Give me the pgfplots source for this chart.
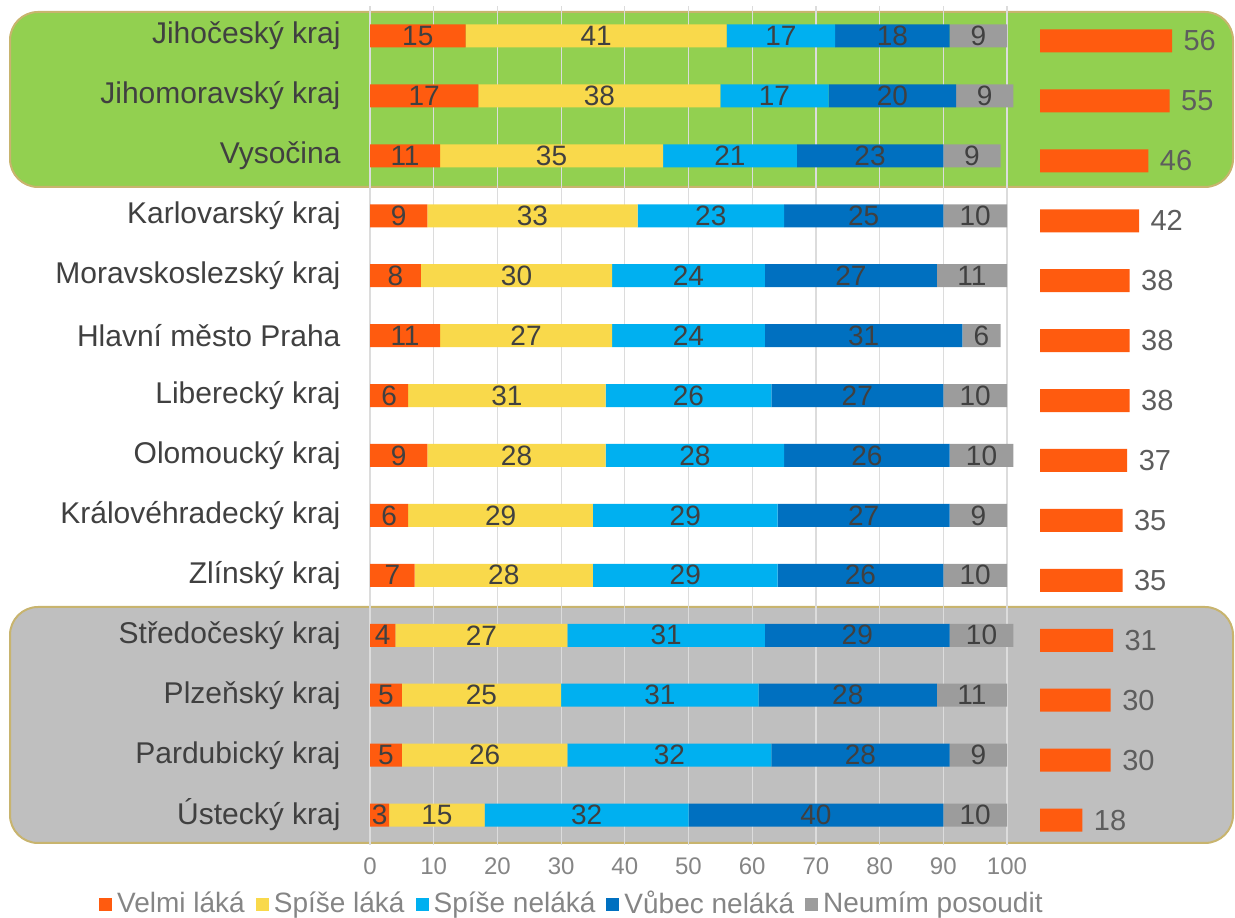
\documentclass[border=0pt]{standalone}
\usepackage{pgfplots}
\pgfplotsset{compat=1.18}
\usepackage{pgfplotstable}
\usepackage{fontspec}
\setmainfont{Liberation Sans}

\definecolor{velmi}{HTML}{FF5B0F}
\definecolor{spise}{HTML}{F9D94B}
\definecolor{nelaka}{HTML}{00B0F0}
\definecolor{vubec}{HTML}{0070C0}
\definecolor{neumim}{HTML}{9C9C9C}
\definecolor{bggreen}{HTML}{92D050}
\definecolor{bggray}{HTML}{BFBFBF}
\definecolor{bgedge}{HTML}{C8B46E}
\definecolor{gridc}{HTML}{DCDCDC}
\definecolor{labc}{HTML}{404040}
\definecolor{tickc}{HTML}{858585}

% r = row (0 = top), a..e = the five answers, s = velmi + spise
\pgfplotstableread{
r a  b  c  d  e  s
0 15 41 17 18 9  56
1 17 38 17 20 9  55
2 11 35 21 23 9  46
3 9  33 23 25 10 42
4 8  30 24 27 11 38
5 11 27 24 31 6  38
6 6  31 26 27 10 38
7 9  28 28 26 10 37
8 6  29 29 27 9  35
9 7  28 29 26 10 35
10 4 27 31 29 10 31
11 5 25 31 28 11 30
12 5 26 32 28 9  30
13 3 15 32 40 10 18
}\kraje

\begin{document}
\begin{tikzpicture}
\useasboundingbox (0pt,0pt) rectangle (1235pt,918pt);
\filldraw[fill=bggreen, draw=bgedge, line width=2pt, rounded corners=28pt]
  (10pt,731pt) rectangle (1233pt,906pt);
\filldraw[fill=bggray, draw=bgedge, line width=2pt, rounded corners=28pt]
  (10pt,75pt) rectangle (1233pt,311pt);

\begin{axis}[
    at={(370pt,73pt)}, anchor=south west,
    scale only axis, width=637pt, height=839pt,
    xbar stacked, bar width=23pt,
    xmin=0, xmax=100, ymin=-0.5, ymax=13.5,
    clip=false,
    y dir=reverse,
    ytick={0,...,13},
    yticklabels={Jihočeský kraj, Jihomoravský kraj, Vysočina, Karlovarský kraj,
      Moravskoslezský kraj, Hlavní město Praha, Liberecký kraj, Olomoucký kraj,
      Královéhradecký kraj, Zlínský kraj, Středočeský kraj, Plzeňský kraj,
      Pardubický kraj, Ústecký kraj},
    xtick={0,10,...,100},
    xmajorgrids, grid style={draw=gridc, line width=1.2pt},
    axis line style={draw=none},
    major tick length=0pt,
    yticklabel style={font=\fontsize{30}{30}\selectfont, text=labc, xshift=-26pt},
    xticklabel style={font=\fontsize{24}{24}\selectfont, text=tickc, yshift=-9pt},
    /pgf/number format/assume math mode=true,
    visualization depends on={rawx \as \rawx},
    nodes near coords={\pgfmathprintnumber{\rawx}},
    every node near coord/.append style={font=\fontsize{28}{28}\selectfont,
      text=labc, anchor=center},
    legend style={at={(0.317,-0.069)}, anchor=center, legend columns=-1,
      draw=none, fill=none, font=\fontsize{28}{28}\selectfont, text=tickc,
      /tikz/every odd column/.append style={column sep=3pt},
      /tikz/every even column/.append style={column sep=9pt}},
    legend image code/.code={\fill[#1] (0pt,-8pt) rectangle (13pt,5pt);},
  ]
  \addplot[fill=velmi, draw=none] table[x=a, y=r]{\kraje};
  \addplot[fill=spise, draw=none] table[x=b, y=r]{\kraje};
  \addplot[fill=nelaka, draw=none] table[x=c, y=r]{\kraje};
  \addplot[fill=vubec, draw=none] table[x=d, y=r]{\kraje};
  \addplot[fill=neumim, draw=none] table[x=e, y=r]{\kraje};
  \legend{Velmi láká, Spíše láká, Spíše neláká, Vůbec neláká, Neumím posoudit}
\end{axis}

\begin{axis}[
    at={(1040pt,68pt)}, anchor=south west,
    scale only axis, width=188.6pt, height=839pt,
    xbar, bar width=23pt,
    xmin=0, xmax=80, ymin=-0.5, ymax=13.5,
    y dir=reverse,
    xtick=\empty, ytick=\empty,
    axis line style={draw=none},
    nodes near coords,
    /pgf/number format/assume math mode=true,
    every node near coord/.append style={font=\fontsize{29}{29}\selectfont,
      text=labc!85!white, anchor=west, xshift=8pt},
  ]
  \addplot[fill=velmi, draw=none] table[x=s, y=r]{\kraje};
\end{axis}
\end{tikzpicture}
\end{document}
